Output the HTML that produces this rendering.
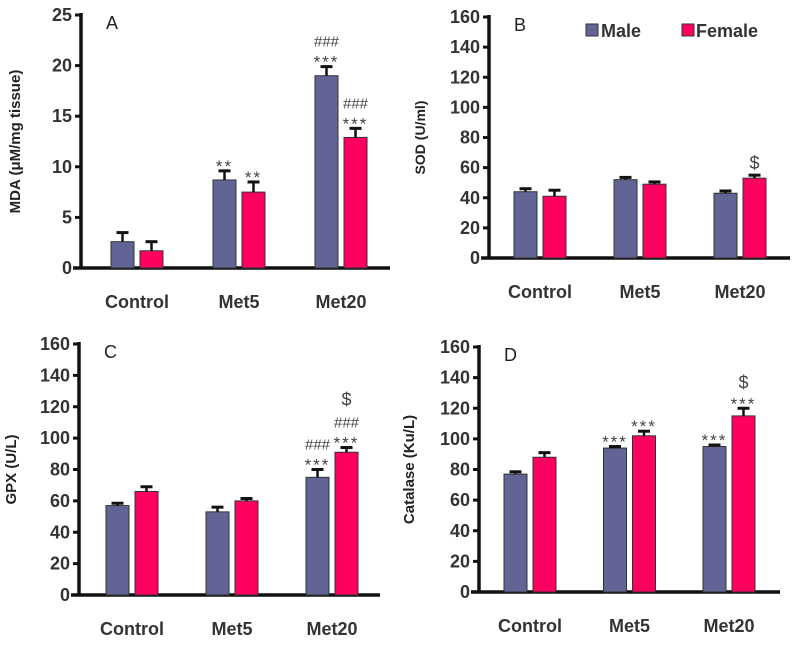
<!DOCTYPE html>
<html><head><meta charset="utf-8"><style>
html,body{margin:0;padding:0;background:#fff;}
svg text{font-family:"Liberation Sans",sans-serif;}
</style></head><body>
<svg id="fig" width="794" height="643" viewBox="0 0 794 643" xmlns="http://www.w3.org/2000/svg"></svg>
<script>
const categories = ["Control","Met5","Met20"];
const maleA = [2.6, 8.7, 19.0], maleAErr = [0.9, 0.9, 0.9];
const femaleA = [1.7, 7.5, 12.9], femaleAErr = [0.9, 1.0, 0.9];
const maleB = [44, 52, 43], maleBErr = [2, 1.5, 1.5];
const femaleB = [41, 49, 53], femaleBErr = [4, 1.5, 2];
const maleC = [57, 53, 75], maleCErr = [1.5, 3, 5];
const femaleC = [66, 60, 91], femaleCErr = [3, 1.5, 3];
const maleD = [77, 94, 95], maleDErr = [1.5, 1, 1];
const femaleD = [88, 102, 115], femaleDErr = [3, 3, 5];
const ticksA = [0,5,10,15,20,25];
const ticks160 = [0,20,40,60,80,100,120,140,160];
const annotMaleA = [[], ["**"], ["***","###"]];
const annotFemaleA = [[], ["**"], ["***","###"]];
const annotMaleB = [[], [], []];
const annotFemaleB = [[], [], ["$"]];
const annotMaleC = [[], [], ["***","###"]];
const annotFemaleC = [[], [], ["***","###","$"]];
const annotMaleD = [[], ["***"], ["***"]];
const annotFemaleD = [[], ["***"], ["***","$"]];

const NS = "http://www.w3.org/2000/svg";
const svg = document.getElementById("fig");
function el(tag, attrs, parent, text){
  const e = document.createElementNS(NS, tag);
  for (const k in attrs) e.setAttribute(k, attrs[k]);
  if (text !== undefined) e.textContent = text;
  (parent || svg).appendChild(e);
  return e;
}
const MALE = "#626496", FEMALE = "#ff0060";

function panel(cfg){
  const g = el("g", {});
  
  
  const y = v => cfg.y0 - (v - 0) / cfg.max * (cfg.y0 - cfg.yTop);
  const x = i => cfg.c0 + i * cfg.step;
  const ya = el("line", {x1:cfg.ax, y1:cfg.yTop-2, x2:cfg.ax, y2:cfg.y0, stroke:"#111", "stroke-width":3.5}, g);
  
  
  const xa = el("line", {x1:cfg.ax-8, y1:cfg.y0, x2:cfg.axEnd, y2:cfg.y0, stroke:"#111", "stroke-width":3.5}, g);
  
  
  cfg.ticks.forEach(t => {
    const yy = y(t);
    el("line", {x1:cfg.ax-6, y1:yy, x2:cfg.ax, y2:yy, stroke:"#111", "stroke-width":3}, g);
    const tl = el("text", {x:cfg.ax-9, y:yy+6, "text-anchor":"end", "font-size":18, "font-weight":"bold", fill:"#333"}, g, String(t));
    
    
  });
  const yt = el("text", {transform:`translate(${cfg.titleX},${(cfg.yTop+cfg.y0)/2}) rotate(-90)`, "text-anchor":"middle", "font-size":cfg.titleSize||15, "font-weight":"bold", fill:"#222"}, g, cfg.title);
  
  
  const lt = el("text", {x:cfg.ax+25, y:cfg.yTop+14, "font-size":18, fill:"#222"}, g, cfg.letter);
  
  
  const bw = 23;
  categories.forEach((c, i) => {
    const cx = x(i);
    [[cfg.male, cfg.maleErr, MALE, -bw-3, cfg.am, 'male'], [cfg.female, cfg.femaleErr, FEMALE, 3, cfg.af, 'female']].forEach(s => {
      const v = s[0][i], e = s[1][i], bx = cx + s[3];
      const r = el("rect", {x:bx, y:y(v), width:bw, height:cfg.y0 - y(v), fill:s[2], stroke:"#333", "stroke-width":1}, g);
      
      
      const mx = bx + bw/2;
      el("line", {x1:mx, y1:y(v), x2:mx, y2:y(v+e), stroke:"#111", "stroke-width":2.5}, g);
      el("line", {x1:mx-6, y1:y(v+e), x2:mx+6, y2:y(v+e), stroke:"#111", "stroke-width":3}, g);
      let ay = y(v+e) - 6;
      s[4][i].forEach(a => {
        const isStar = a[0]==="*";
        const t = el("text", {x:mx, y:ay + (isStar?7:0), "text-anchor":"middle", "font-size":isStar?17:(a==="$"?18:15), "letter-spacing":isStar?2:0, fill:"#444"}, g, a);
        
        
        ay -= isStar ? 14 : 22;
      });
    });
    const cl = el("text", {x:cx, y:cfg.y0+40, "text-anchor":"middle", "font-size":18, "font-weight":"bold", fill:"#333"}, g, c);
    
    
  });
}

panel({letter:"A", ax:81, axEnd:390, yTop:15, y0:268, max:25, ticks:ticksA, c0:137, step:102, titleX:20, titleSize:15,
  title:"MDA (μM/mg tissue)", male:maleA, maleErr:maleAErr, female:femaleA, femaleErr:femaleAErr, am:annotMaleA, af:annotFemaleA});
panel({letter:"B", ax:489, axEnd:790, yTop:17, y0:258, max:160, ticks:ticks160, c0:540, step:100, titleX:425, titleSize:14,
  title:"SOD (U/ml)", male:maleB, maleErr:maleBErr, female:femaleB, femaleErr:femaleBErr, am:annotMaleB, af:annotFemaleB});
panel({letter:"C", ax:79, axEnd:380, yTop:344, y0:595, max:160, ticks:ticks160, c0:132, step:100, titleX:16, titleSize:15,
  title:"GPX (U/L)", male:maleC, maleErr:maleCErr, female:femaleC, femaleErr:femaleCErr, am:annotMaleC, af:annotFemaleC});
panel({letter:"D", ax:479, axEnd:780, yTop:347, y0:592, max:160, ticks:ticks160, c0:530, step:99.5, titleX:414, titleSize:15,
  title:"Catalase (Ku/L)", male:maleD, maleErr:maleDErr, female:femaleD, femaleErr:femaleDErr, am:annotMaleD, af:annotFemaleD});

const lg = el("g", {});


const lm = el("rect", {x:586, y:24, width:12, height:12, fill:MALE, stroke:"#333"}, lg);


const lmt = el("text", {x:601, y:37, "font-size":18, "font-weight":"bold", fill:"#333"}, lg, "Male");


const lf = el("rect", {x:682, y:24, width:12, height:12, fill:FEMALE, stroke:"#333"}, lg);


const lft = el("text", {x:696, y:37, "font-size":18, "font-weight":"bold", fill:"#333"}, lg, "Female");


</script>
</body></html>
